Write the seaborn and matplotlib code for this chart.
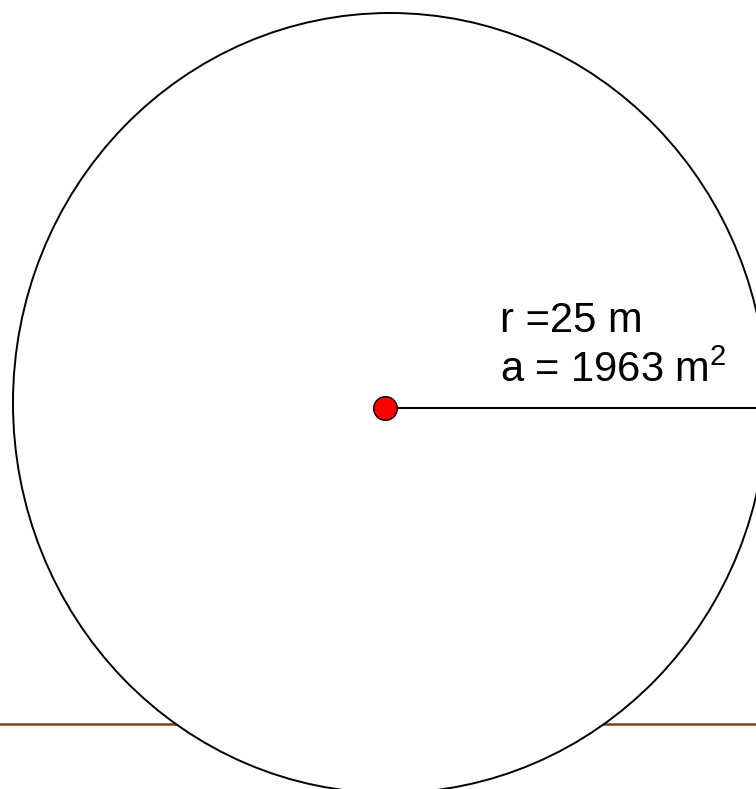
import numpy as np
import pandas as pd
import matplotlib.pyplot as plt
import seaborn as sns
from matplotlib.patches import Ellipse

# data (metres)
radius = 25.0
area = np.pi * radius ** 2          # 1963 m2
centre_x = [0.0]
centre_y = [0.0]
ground_x = [-30.0, 30.0]
ground_y = [-20.25, -20.25]
radius_x = [0.0, radius]
radius_y = [0.0, 0.0]
labels = [f"r ={radius:.0f} m", f"a = {area:.0f} m$^{{2}}$"]

sns.set_style("white")
plt.rcParams['font.family'] = ['Liberation Sans', 'DejaVu Sans']
plt.rcParams['mathtext.fontset'] = 'custom'
plt.rcParams['mathtext.rm'] = 'Liberation Sans'
plt.rcParams['mathtext.it'] = 'Liberation Sans'

fig = plt.figure(figsize=(7.56, 7.89), dpi=100)
ax = fig.add_axes([0, 0, 1, 1])

# ground line, behind the circle
sns.lineplot(x=ground_x, y=ground_y, color='#8B3A12', lw=1.8, ax=ax, zorder=1)

# circle (slightly stretched, like the original)
circ = Ellipse((0.33, 0.32), width=2 * radius, height=2 * radius,
               facecolor='white', edgecolor='black', lw=1.4, zorder=2)
ax.add_patch(circ)

# radius line and centre point
sns.lineplot(x=radius_x, y=radius_y, color='black', lw=1.5, ax=ax, zorder=3)
sns.scatterplot(x=centre_x, y=centre_y, s=290, color='red',
                edgecolor='black', linewidth=1.0, ax=ax, zorder=4)

ax.text(7.6, 4.9, labels[0], fontsize=30, color='black', ha='left', va='baseline', zorder=5)
ax.text(7.6, 1.67, labels[1], fontsize=30, color='black', ha='left', va='baseline', zorder=5)

ax.set_xlim(-385 / 15.08, (756 - 385) / 15.08)
ax.set_ylim(-(789 - 408) / 15.6, 408 / 15.6)
ax.set_axis_off()

fig.savefig("out.png", dpi=100)
